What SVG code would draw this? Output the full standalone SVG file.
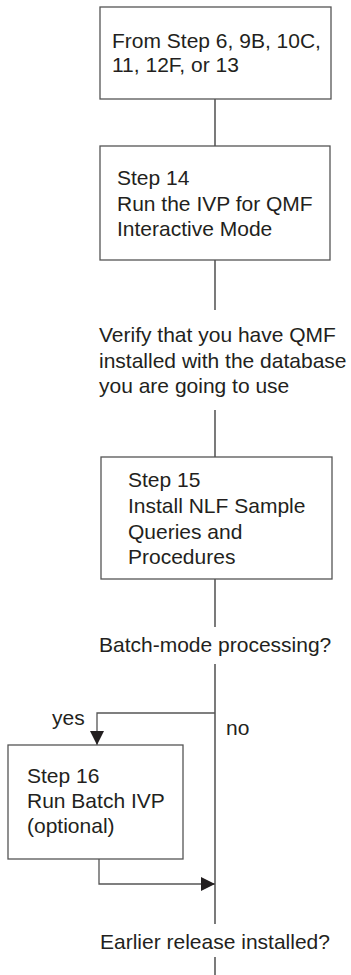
<svg xmlns="http://www.w3.org/2000/svg" width="351" height="975" viewBox="0 0 351 975">
<style>
.box{fill:#fff;stroke:#555;stroke-width:1.3}
.t{font-family:"Liberation Sans",Arial,sans-serif;font-size:21px;fill:#231f20}
.ln{fill:none;stroke:#222;stroke-width:1.2}
.ln2{fill:none;stroke:#555;stroke-width:1.3}
</style>
<defs>
<marker id="ah" markerWidth="14" markerHeight="14" viewBox="0 0 14 14" refX="14" refY="7" orient="auto" markerUnits="userSpaceOnUse">
<path d="M0,0 L14,7 L0,14 Z" fill="#231f20"/>
</marker>
</defs>
<rect width="351" height="975" fill="#fff"/>
<g id="connectors">
<line class="ln" x1="215" y1="99" x2="215" y2="146"/>
<line class="ln" x1="215" y1="260" x2="215" y2="310"/>
<line class="ln" x1="215" y1="410" x2="215" y2="457"/>
<line class="ln" x1="215" y1="579" x2="215" y2="627"/>
<line class="ln" x1="215" y1="664" x2="215" y2="924"/>
<line class="ln" x1="215" y1="957" x2="215" y2="975"/>
<path class="ln2" d="M215,713 H97 V745" marker-end="url(#ah)"/>
<path class="ln2" d="M99,859 V884 H215" marker-end="url(#ah)"/>
</g>
<g id="n1">
<rect class="box" x="100" y="7" width="231" height="92"/>
<text class="t" x="112" y="48">From Step 6, 9B, 10C,</text>
<text class="t" x="112" y="72">11, 12F, or 13</text>
</g>
<g id="n2">
<rect class="box" x="100" y="146" width="230" height="114"/>
<text class="t" x="117" y="185">Step 14</text>
<text class="t" x="117" y="211">Run the IVP for QMF</text>
<text class="t" x="117" y="236">Interactive Mode</text>
</g>
<g id="n3">
<text class="t" x="99" y="342">Verify that you have QMF</text>
<text class="t" x="99" y="368">installed with the database</text>
<text class="t" x="99" y="393">you are going to use</text>
</g>
<g id="n4">
<rect class="box" x="101" y="457" width="231" height="122"/>
<text class="t" x="128" y="487">Step 15</text>
<text class="t" x="128" y="513">Install NLF Sample</text>
<text class="t" x="128" y="539">Queries and</text>
<text class="t" x="128" y="564">Procedures</text>
</g>
<g id="n5">
<text class="t" x="99" y="652">Batch-mode processing?</text>
</g>
<g id="labels">
<text class="t" x="52" y="725">yes</text>
<text class="t" x="226" y="735">no</text>
</g>
<g id="n6">
<rect class="box" x="8" y="745" width="175" height="114"/>
<text class="t" x="27" y="783">Step 16</text>
<text class="t" x="27" y="808">Run Batch IVP</text>
<text class="t" x="27" y="833">(optional)</text>
</g>
<g id="n7">
<text class="t" x="100" y="949">Earlier release installed?</text>
</g>
</svg>
